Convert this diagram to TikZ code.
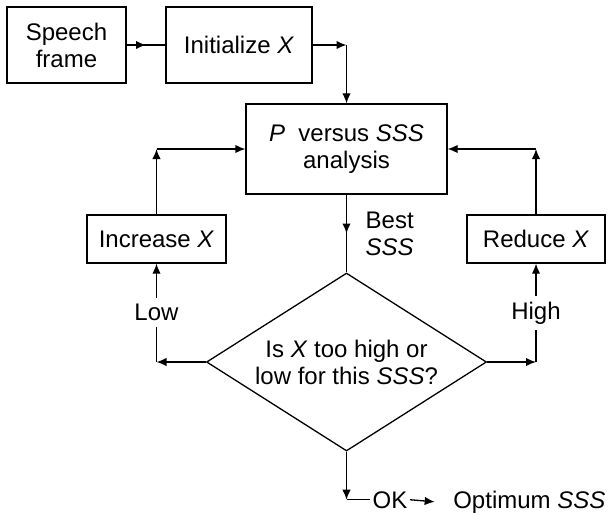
\documentclass[tikz,border=0pt]{standalone}
\usepackage{fontspec}
\setmainfont{Liberation Sans}
\usetikzlibrary{arrows.meta,shapes.geometric,decorations.markings}

\begin{document}
\begin{tikzpicture}[
			x=0.5pt, y=-0.5pt,
			every node/.style={font=\fontsize{12}{13.5}\selectfont},
			box/.style={draw, rectangle, inner sep=0pt, align=center},
			dec/.style={draw, diamond, aspect=1.57, minimum width=140pt, minimum height=89pt, inner sep=0pt, align=center},
			lbl/.style={draw=none, inner sep=0pt, align=left},
			arr/.style={-{Latex[length=5pt,width=4.2pt]}},
			midarr/.style={postaction={decorate}, decoration={markings,
				mark=at position #1 with {\arrow{Latex[length=5pt,width=4.2pt]}}}},
			line width=0.65pt
			]
			\useasboundingbox (0,0) rectangle (608,513);
			\node[box, minimum width=59.5pt, minimum height=38pt] (sf) at (66.5,45) {Speech\\frame};
			\node[box, minimum width=73pt, minimum height=38pt] (init) at (239,45) {Initialize \textit{X}};
			\node[box, minimum width=100.5pt, minimum height=45pt] (pvs) at (346.5,149) {\textit{P}~~versus \textit{SSS}\\analysis};
			\node[box, minimum width=69.5pt, minimum height=24pt] (inc) at (156.5,239) {Increase \textit{X}};
			\node[box, minimum width=69pt, minimum height=24pt] (red) at (536,239) {Reduce \textit{X}};
			\node[dec] (dia) at (346.5,362) {Is \textit{X} too high or\\low for this \textit{SSS}?};
			\node[lbl, anchor=west] (best) at (365,234) {Best\\\textit{SSS}};
			\node[lbl, anchor=base] (ok) at (390,508) {OK};
			\node[lbl, anchor=base east] (opt) at (606,508) {Optimum \textit{SSS}};
			\coordinate (c1) at (pvs.north |- init.east);
			\coordinate (cl) at (inc.south |- dia.west);
			\coordinate (cl2) at (inc.north |- pvs.west);
			\coordinate (cr) at (red.south |- dia.east);
			\coordinate (cr2) at (red.north |- pvs.east);
			\coordinate (cb) at (dia.south |- ok.west);
			\draw[midarr=0.5] (sf.east) -- (init.west);
			\draw[arr] (init.east) -- (c1);
			\draw[arr] (c1) -- (pvs.north);
			\draw[midarr=0.5] (pvs.south) -- (dia.north);
			% Low branch
			\draw[arr] (dia.west) -- (cl);
			\draw[arr] (cl) -- node[lbl, fill=white, inner sep=3pt]{Low} (inc.south);
			\draw[arr] (inc.north) -- (cl2);
			\draw[arr] (cl2) -- (pvs.west);
			% High branch
			\draw[arr] (dia.east) -- (cr);
			\draw[arr] (cr) -- node[lbl, fill=white, inner sep=3pt]{High} (red.south);
			\draw[arr] (red.north) -- (cr2);
			\draw[arr] (cr2) -- (pvs.east);
			% OK
			\draw[arr] (dia.south) -- (cb);
			\draw (cb) -- ([xshift=-1pt]ok.west);
			\draw[arr] ([xshift=1pt]ok.east) -- ([xshift=-9pt]opt.west);
		\end{tikzpicture}
\end{document}
